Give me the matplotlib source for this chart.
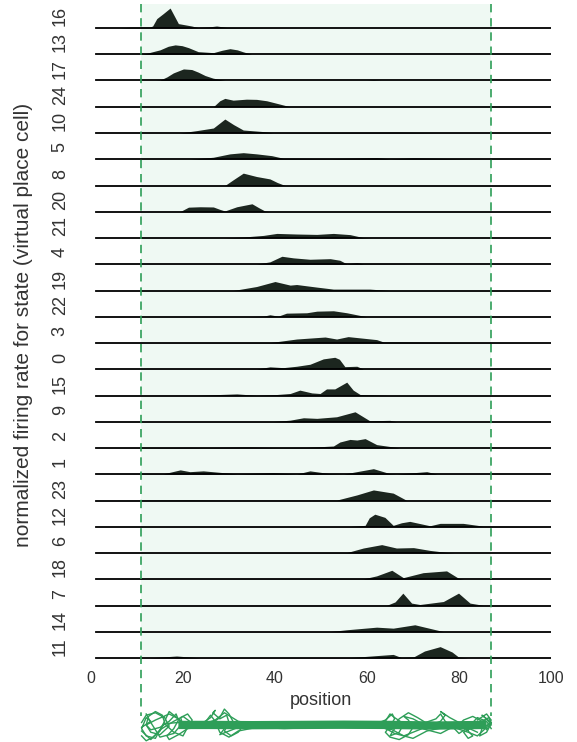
import numpy as np
import matplotlib
matplotlib.use('Agg')
import matplotlib.pyplot as plt
from matplotlib.lines import Line2D
from matplotlib.transforms import blended_transform_factory

plt.rcParams['font.family'] = ['Liberation Sans', 'DejaVu Sans']

# states, top to bottom
states = [16, 13, 17, 24, 10, 5, 8, 20, 21, 4, 19, 22, 3, 0, 15, 9, 2, 1, 23, 12, 6, 18, 7, 14, 11]

# normalized firing rate per state, read at positions (knots)
x16 = [1, 6, 8.5, 12.8, 13.4, 14.3, 15.7, 17.2, 19.0, 21.9, 23.3, 25.5, 27.3, 29.5, 37.5, 45, 100]
r16 = [0, 0, 0.04, 0.05, 0.1, 0.47, 0.72, 1.0, 0.22, 0.1, 0.02, 0.05, 0.1, 0.03, 0.01, 0, 0]
x13 = [1, 11, 12.1, 15.0, 16.8, 18.3, 19.8, 21.2, 23.3, 26.6, 28.5, 30.2, 31.8, 33.1, 34.9, 100]
r13 = [0, 0, 0.05, 0.22, 0.4, 0.47, 0.43, 0.33, 0.13, 0.08, 0.2, 0.28, 0.22, 0.12, 0, 0]
x17 = [1, 14, 15.0, 16.5, 17.9, 20.1, 21.9, 23.3, 24.8, 26.5, 28.0, 29.1, 60, 61.4, 63, 100]
r17 = [0, 0, 0.02, 0.18, 0.38, 0.58, 0.55, 0.42, 0.25, 0.12, 0.05, 0, 0, 0.03, 0, 0]
x24 = [1, 26.6, 28, 29.1, 30.9, 33.8, 36, 38.2, 41.1, 43.3, 100]
r24 = [0, 0, 0.3, 0.42, 0.33, 0.38, 0.37, 0.3, 0.13, 0, 0]
x10 = [1, 19.3, 23.0, 26.6, 29.1, 31, 33.1, 37.5, 39.6, 50, 66.4, 75, 100]
r10 = [0, 0, 0.12, 0.25, 0.7, 0.42, 0.15, 0.07, 0.01, 0.02, 0.04, 0.01, 0]
x5 = [1, 21.5, 26.6, 30.2, 33.1, 36.0, 39.3, 41.8, 52.0, 62.1, 65.0, 70.1, 80.9, 85, 100]
r5 = [0, 0, 0.1, 0.27, 0.33, 0.27, 0.18, 0.05, 0.03, 0.08, 0.02, 0.07, 0.02, 0.01, 0]
x8 = [1, 29.1, 31, 33.1, 36.0, 38.9, 40.5, 42.2, 100]
r8 = [0, 0, 0.3, 0.62, 0.45, 0.33, 0.15, 0, 0]
x20 = [1, 19.3, 21.2, 23.7, 26.6, 28, 29.1, 31.7, 35.0, 36.5, 37.8, 38.9, 100]
r20 = [0, 0, 0.23, 0.25, 0.24, 0.12, 0.04, 0.25, 0.4, 0.2, 0.04, 0, 0]
x21 = [1, 28.8, 33.1, 37.5, 40.4, 44.7, 49.1, 52.7, 56.3, 59.2, 61, 100]
r21 = [0, 0, 0.05, 0.13, 0.23, 0.2, 0.18, 0.23, 0.17, 0.02, 0, 0]
x4 = [1, 36, 38.9, 41.5, 44.0, 47.6, 52.0, 54.1, 55.6, 57.8, 59.2, 66.4, 70, 100]
r4 = [0, 0.01, 0.12, 0.4, 0.32, 0.25, 0.28, 0.2, 0.02, 0.08, 0.02, 0.01, 0, 0]
x19 = [1, 30.9, 36.0, 40.0, 43.3, 44.7, 49.1, 52.7, 60.6, 65.0, 100]
r19 = [0, 0, 0.2, 0.45, 0.27, 0.3, 0.17, 0.07, 0.07, 0, 0]
x22 = [1, 33.8, 37.5, 38.9, 40.7, 42.5, 46.9, 49.1, 52.7, 55.6, 59.9, 100]
r22 = [0, 0, 0.03, 0.1, 0.03, 0.18, 0.2, 0.28, 0.3, 0.2, 0, 0]
x3 = [1, 38.9, 44.7, 50.9, 53.4, 55.9, 62.1, 63.6, 66.4, 80.9, 100]
r3 = [0, 0.02, 0.2, 0.3, 0.2, 0.32, 0.17, 0.05, 0.05, 0.02, 0]
x0 = [1, 36, 38.9, 41.8, 44.7, 47.6, 50.5, 53.0, 54, 55.2, 57.8, 59.2, 100]
r0 = [0, 0.01, 0.12, 0.08, 0.15, 0.25, 0.52, 0.6, 0.5, 0.13, 0.15, 0.01, 0]
x15 = [1, 23, 31.7, 36, 40.4, 43.3, 45.4, 48.0, 49.8, 51.2, 53.0, 55.6, 57.0, 58.5, 65, 100]
r15 = [0, 0.01, 0.08, 0.01, 0.05, 0.1, 0.27, 0.13, 0.1, 0.33, 0.33, 0.67, 0.27, 0.05, 0, 0]
x9 = [1, 39.6, 43.3, 46.2, 49.1, 53.4, 57.4, 60.6, 65.0, 66.4, 100]
r9 = [0, 0.01, 0.08, 0.2, 0.17, 0.25, 0.5, 0.05, 0.07, 0, 0]
x2 = [1, 21.5, 25.1, 33.8, 40.4, 46.9, 52.7, 54.1, 56.3, 57.8, 59.6, 62.1, 66.4, 67, 100]
r2 = [0, 0.03, 0.02, 0.05, 0.02, 0.03, 0.1, 0.3, 0.43, 0.4, 0.47, 0.17, 0.03, 0, 0]
x1 = [1, 15.7, 19.4, 21.5, 24.4, 31.7, 39.6, 44.7, 47.6, 52.0, 54.9, 61.4, 65.0, 66.4, 73.0, 75.2, 100]
r1 = [0, 0.02, 0.22, 0.13, 0.17, 0.02, 0.08, 0.01, 0.17, 0.03, 0.01, 0.28, 0.03, 0.01, 0.13, 0.01, 0]
x23 = [1, 8.5, 21.5, 30.2, 53.4, 57.8, 61.4, 65.7, 68.6, 100]
r23 = [0, 0.01, 0.03, 0.01, 0.02, 0.28, 0.53, 0.37, 0.01, 0]
x12 = [1, 56.3, 59.6, 60.5, 61.7, 63.9, 65.7, 67.5, 69.3, 73.7, 75.9, 80.9, 85.3, 100]
r12 = [0, 0.01, 0.07, 0.45, 0.63, 0.47, 0.07, 0.2, 0.27, 0.05, 0.17, 0.17, 0.03, 0]
x6 = [1, 55.6, 59.2, 63.2, 66.4, 70.1, 73.7, 77.3, 79, 100]
r6 = [0, 0.02, 0.25, 0.42, 0.25, 0.27, 0.13, 0.03, 0, 0]
x18 = [1, 59.2, 62.1, 65.4, 67.9, 72.2, 77.3, 79.9, 81, 100]
r18 = [0, 0.02, 0.17, 0.45, 0.08, 0.33, 0.42, 0.05, 0, 0]
x7 = [1, 64.3, 66.1, 67.8, 69.7, 71.5, 76.6, 79.9, 82.4, 85.3, 100]
r7 = [0, 0.01, 0.18, 0.62, 0.12, 0.05, 0.2, 0.62, 0.12, 0.01, 0]
x14 = [1, 52, 55.6, 62.1, 65.7, 70.4, 74.4, 76.6, 100]
r14 = [0, 0.01, 0.1, 0.23, 0.18, 0.35, 0.13, 0.01, 0]
x11 = [1, 12.8, 18.6, 23.7, 56.3, 62.1, 65.7, 67.5, 70.1, 72.5, 75.9, 78.5, 79.9, 82, 100]
r11 = [0, 0.01, 0.1, 0.01, 0.02, 0.12, 0.18, 0.02, 0.05, 0.35, 0.57, 0.3, 0.05, 0, 0]

curves = {16: (x16, r16), 13: (x13, r13), 17: (x17, r17), 24: (x24, r24), 10: (x10, r10),
          5: (x5, r5), 8: (x8, r8), 20: (x20, r20), 21: (x21, r21), 4: (x4, r4),
          19: (x19, r19), 22: (x22, r22), 3: (x3, r3), 0: (x0, r0), 15: (x15, r15),
          9: (x9, r9), 2: (x2, r2), 1: (x1, r1), 23: (x23, r23), 12: (x12, r12),
          6: (x6, r6), 18: (x18, r18), 7: (x7, r7), 14: (x14, r14), 11: (x11, r11)}

# track limits (reward zones edges)
track_lo, track_hi = 10.9, 87.0

# animal trajectory along the track (position, lateral)
trk_x1 = [11, 12, 14, 16, 17, 15, 13, 12, 14, 17, 19, 21, 20, 18, 16, 19, 22, 26, 28, 29,
          30, 31, 29, 28, 30, 33, 40, 50, 60, 64, 65, 66, 68, 67, 65, 66, 69, 72, 75, 76,
          77, 79, 81, 83, 85, 86, 87, 85, 86, 87]
trk_y1 = [0.2, 0.8, 1.0, 0.6, -0.1, -0.8, -0.6, 0.0, 0.4, 0.9, 0.5, -0.2, -0.9, -0.6, 0.1, 0.2, 0.0, 0.05, 0.6, 1.3,
          0.9, 0.2, -0.3, -0.8, -0.5, -0.05, 0.05, 0.0, 0.05, 0.3, 0.9, 0.6, 0.1, -0.6, -0.9, -0.3, 0.2, 0.1, 0.5, 0.9,
          0.3, -0.3, 0.4, 0.7, 0.3, -0.4, 0.2, 0.8, 0.5, 0.0]
trk_x2 = [87, 86, 84, 82, 80, 79, 78, 76, 74, 71, 69, 67, 65, 63, 58, 50, 42, 36, 32, 30,
          28, 27, 26, 24, 21, 19, 17, 16, 14, 12, 11, 12, 13, 11]
trk_y2 = [-0.3, 0.3, 0.6, -0.2, -0.7, -0.3, 0.1, -0.2, -0.1, 0.6, 1.0, 0.5, -0.4, -0.2, -0.25, -0.2, -0.3, -0.2, -0.5, -1.0,
          -0.6, 0.3, 0.8, -0.2, -0.3, 0.5, 1.1, 0.3, -1.1, -0.9, -0.3, 0.6, 0.3, -0.2]
trk_x3 = [11, 13, 15, 18, 20, 22, 25, 30, 35, 45, 55, 62, 66, 70, 73, 78, 82, 84, 86, 87, 86, 84]
trk_y3 = [-0.5, -1.2, -0.4, 0.3, 0.7, 0.15, 0.1, 0.15, 0.2, 0.15, 0.2, 0.15, -0.7, -1.1, -0.5, -0.1, -0.6, -0.9, -0.2, 0.4, 0.9, 0.4]
trk_x4 = [84, 80, 76, 72, 68, 64, 56, 46, 38, 32, 29, 27, 23, 20, 18, 15, 13, 12]
trk_y4 = [-0.6, 0.1, -0.7, -0.3, -0.9, -0.1, -0.1, -0.05, -0.1, 0.3, 1.0, 0.4, -0.1, 0.2, -0.7, -1.0, 0.2, 0.9]
trk_x5 = [11, 12, 13.5, 15, 16, 15.5, 14, 12.5, 12, 13, 15, 17, 18.5, 19, 18, 16.5, 17, 19, 21, 22,
          21, 19.5, 20, 22, 24]
trk_y5 = [-0.9, -1.3, -1.0, -0.5, 0.2, 0.8, 1.1, 0.7, 0.0, -0.4, -0.2, 0.3, 0.9, 0.4, -0.3, -0.9, -1.2, -0.8, -0.3, 0.4,
          0.9, 0.6, -0.1, -0.2, 0.1]
trk_x6 = [62, 64, 65.5, 66, 65, 64, 65, 67, 69, 70, 69, 68, 70, 72, 74, 76, 77, 76, 78, 80,
          82, 83, 82, 81, 83, 85, 86.5, 87, 86, 84.5, 85, 87]
trk_y6 = [0.1, 0.4, 0.9, 0.5, -0.1, -0.6, -1.0, -1.2, -0.8, -0.2, 0.4, 0.7, 0.5, 0.1, 0.0, 0.3, 0.8, 1.1, 0.6, 0.2,
          -0.5, -0.9, -1.1, -0.6, -0.2, 0.3, 0.6, 0.1, -0.6, -0.9, -0.3, 0.2]
trk_x7 = [24, 26, 27, 26.5, 28, 29.5, 30, 29, 30.5, 32, 33]
trk_y7 = [0.1, 0.6, 1.2, 1.0, 0.5, 0.8, 0.2, -0.5, -0.9, -0.6, -0.1]
band_x = [19, 26, 35, 45, 55, 65, 75, 86]
band_y = [0.0, 0.0, -0.02, 0.0, 0.02, 0.0, -0.05, 0.0]

fill_col = '#1c261f'
green = '#2e9e58'
shade = '#eff9f3'
txt = '#333333'
scale = 0.76

fig = plt.figure(figsize=(5.77, 7.42), dpi=100)
ax = fig.add_axes([0.1577, 0.1051, 0.7972, 0.8895])
n = len(states)
for i, s in enumerate(states):
    off = n - 1 - i
    xs, rs = curves[s]
    xs = np.array(xs)
    rs = np.array(rs)
    ax.fill_between(xs, off, off + rs * scale, color=fill_col, lw=0, zorder=2)
    ax.plot(xs, np.zeros_like(xs) + off, color='black', lw=1.3, zorder=3)

ax.fill_between([track_lo, track_hi], 0, n - 1 + 0.914, color=shade, lw=0, zorder=0)
ax.set_xlim(0, 100)
ax.set_ylim(-0.229, n - 1 + 0.914)
ax.set_yticks(np.arange(n) + 0.45)
ax.set_yticklabels([str(s) for s in states[::-1]], rotation=90, va='center', fontsize=13, color=txt)
ax.set_xticks([0, 20, 40, 60, 80, 100])
ax.tick_params(axis='y', length=0, pad=16)
ax.tick_params(axis='x', length=0, pad=5, labelsize=11.5, labelcolor=txt)
for sp in ax.spines.values():
    sp.set_visible(False)
ax.set_xlabel('position', fontsize=13, color=txt)
ax.set_ylabel('normalized firing rate for state (virtual place cell)', fontsize=15, color=txt)
ax.xaxis.set_label_coords(0.5, -0.043)
ax.yaxis.set_label_coords(-0.126, 0.514)

# dashed lines at the track ends, through whole figure
tr = blended_transform_factory(ax.transData, fig.transFigure)
for xv in [track_lo, track_hi]:
    fig.add_artist(Line2D([xv, xv], [1 - 4 / 742, 1 - 716 / 742], transform=tr,
                          color=green, lw=1.2, ls=(0, (5, 3.5)), zorder=5))

# trajectory inset
ax2 = fig.add_axes([0.1577, 0.0, 0.7972, 0.046])
ax2.plot(band_x, band_y, color=green, lw=6, solid_capstyle='butt')
for tx, ty in [(trk_x1, trk_y1), (trk_x2, trk_y2), (trk_x3, trk_y3), (trk_x4, trk_y4),
               (trk_x5, trk_y5), (trk_x6, trk_y6), (trk_x7, trk_y7)]:
    ax2.plot(tx, ty, color=green, lw=1.0)
ax2.set_xlim(0, 100)
ax2.set_ylim(-1.4, 1.4)
ax2.axis('off')

fig.savefig('out.png', dpi=100)
